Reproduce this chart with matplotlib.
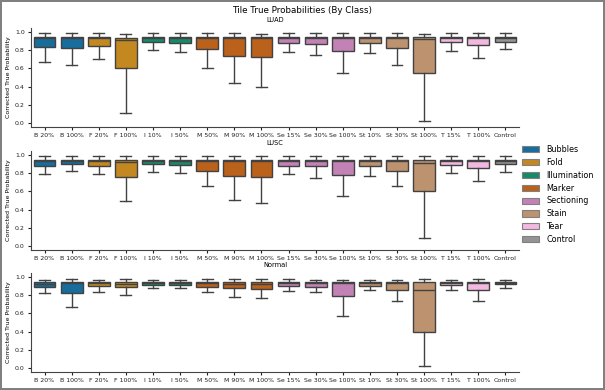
import matplotlib
matplotlib.use("Agg")
import matplotlib.pyplot as plt
import seaborn as sns
from matplotlib.patches import Patch

# ==========================================
# DATA
# ==========================================
LABELS = ['B 20%', 'B 100%', 'F 20%', 'F 100%', 'I 10%', 'I 50%', 'M 50%', 'M 90%',
          'M 100%', 'Se 15%', 'Se 30%', 'Se 100%', 'St 10%', 'St 30%', 'St 100%',
          'T 15%', 'T 100%', 'Control']
LABEL_CLASS = ['Bubbles', 'Bubbles', 'Fold', 'Fold', 'Illumination', 'Illumination',
               'Marker', 'Marker', 'Marker', 'Sectioning', 'Sectioning', 'Sectioning',
               'Stain', 'Stain', 'Stain', 'Tear', 'Tear', 'Control']
CLASSES = ['Bubbles', 'Fold', 'Illumination', 'Marker', 'Sectioning', 'Stain', 'Tear', 'Control']
PANELS = ['LUAD', 'LUSC', 'Normal']

# per panel: whisker low, Q1, median, Q3, whisker high
LUAD_LOW = [0.67, 0.64, 0.70, 0.11, 0.805, 0.78, 0.61, 0.44, 0.39, 0.78, 0.75, 0.55,
            0.77, 0.64, 0.02, 0.79, 0.72, 0.81]
LUAD_Q1 = [0.835, 0.82, 0.85, 0.61, 0.89, 0.88, 0.816, 0.74, 0.724, 0.88, 0.87, 0.79,
           0.875, 0.82, 0.555, 0.89, 0.857, 0.89]
LUAD_MED = [0.94, 0.94, 0.94, 0.91, 0.93, 0.93, 0.94, 0.93, 0.93, 0.93, 0.93, 0.94,
            0.94, 0.94, 0.92, 0.93, 0.93, 0.93]
LUAD_Q3 = [0.95, 0.95, 0.95, 0.94, 0.95, 0.95, 0.95, 0.95, 0.95, 0.95, 0.95, 0.95,
           0.95, 0.95, 0.95, 0.95, 0.95, 0.95]
LUAD_HIGH = [0.99, 0.99, 0.99, 0.98, 0.99, 0.99, 0.99, 0.99, 0.98, 0.99, 0.99, 0.99,
             0.99, 0.99, 0.98, 0.99, 0.99, 0.99]

LUSC_LOW = [0.79, 0.825, 0.79, 0.49, 0.81, 0.805, 0.657, 0.51, 0.474, 0.79, 0.75, 0.555,
            0.774, 0.664, 0.084, 0.80, 0.715, 0.81]
LUSC_Q1 = [0.883, 0.898, 0.883, 0.76, 0.898, 0.89, 0.83, 0.774, 0.76, 0.883, 0.876, 0.785,
           0.876, 0.83, 0.60, 0.89, 0.858, 0.898]
LUSC_MED = [0.93, 0.93, 0.93, 0.92, 0.93, 0.93, 0.94, 0.94, 0.94, 0.93, 0.93, 0.94,
            0.94, 0.94, 0.916, 0.93, 0.93, 0.93]
LUSC_Q3 = [0.95, 0.95, 0.95, 0.95, 0.95, 0.95, 0.95, 0.95, 0.95, 0.95, 0.95, 0.95,
           0.95, 0.95, 0.95, 0.95, 0.95, 0.95]
LUSC_HIGH = [0.99, 0.99, 0.99, 0.985, 0.99, 0.99, 0.99, 0.99, 0.99, 0.99, 0.99, 0.99,
             0.99, 0.99, 0.99, 0.99, 0.99, 0.99]

NORMAL_LOW = [0.82, 0.668, 0.84, 0.807, 0.883, 0.88, 0.836, 0.785, 0.77, 0.85, 0.832, 0.577,
              0.854, 0.74, 0.018, 0.86, 0.74, 0.883]
NORMAL_Q1 = [0.89, 0.825, 0.905, 0.887, 0.915, 0.915, 0.894, 0.883, 0.872, 0.905, 0.894, 0.796,
             0.905, 0.86, 0.40, 0.909, 0.86, 0.92]
NORMAL_MED = [0.925, 0.93, 0.93, 0.925, 0.935, 0.935, 0.93, 0.925, 0.925, 0.93, 0.93, 0.94,
              0.935, 0.94, 0.86, 0.935, 0.94, 0.935]
NORMAL_Q3 = [0.945, 0.945, 0.945, 0.945, 0.945, 0.945, 0.945, 0.942, 0.945, 0.948, 0.945, 0.945,
             0.945, 0.945, 0.945, 0.945, 0.945, 0.948]
NORMAL_HIGH = [0.967, 0.975, 0.967, 0.975, 0.967, 0.967, 0.975, 0.975, 0.975, 0.975, 0.967, 0.967,
               0.967, 0.967, 0.978, 0.967, 0.975, 0.967]

PANEL_STATS = {
    'LUAD': (LUAD_LOW, LUAD_Q1, LUAD_MED, LUAD_Q3, LUAD_HIGH),
    'LUSC': (LUSC_LOW, LUSC_Q1, LUSC_MED, LUSC_Q3, LUSC_HIGH),
    'Normal': (NORMAL_LOW, NORMAL_Q1, NORMAL_MED, NORMAL_Q3, NORMAL_HIGH),
}

# ==========================================
# STYLE
# ==========================================
palette = sns.color_palette('colorblind', len(CLASSES))
class_color = {c: sns.desaturate(col, 0.75) for c, col in zip(CLASSES, palette)}
EDGE = (0.26, 0.26, 0.26)

fig = plt.figure(figsize=(6.05, 3.9), dpi=100)
fig.patch.set_edgecolor((0.5, 0.5, 0.5))
fig.patch.set_linewidth(1.5)

axes_rects = [
    [31 / 605, 1 - 127 / 390, 488 / 605, 99 / 390],
    [31 / 605, 1 - 250 / 390, 488 / 605, 99 / 390],
    [31 / 605, 1 - 372 / 390, 488 / 605, 99 / 390],
]

for panel, rect in zip(PANELS, axes_rects):
    ax = fig.add_axes(rect)
    low, q1, med, q3, high = PANEL_STATS[panel]
    stats = []
    for i, lab in enumerate(LABELS):
        stats.append({'label': lab, 'whislo': low[i], 'q1': q1[i], 'med': med[i],
                      'q3': q3[i], 'whishi': high[i], 'fliers': []})
    bp = ax.bxp(stats, positions=range(len(LABELS)), widths=0.8, patch_artist=True,
                showfliers=False,
                boxprops=dict(edgecolor=EDGE, linewidth=1.0),
                medianprops=dict(color=EDGE, linewidth=1.0),
                whiskerprops=dict(color=EDGE, linewidth=1.0),
                capprops=dict(color=EDGE, linewidth=1.0))
    for patch, cls in zip(bp['boxes'], LABEL_CLASS):
        patch.set_facecolor(class_color[cls])
    for cap in bp['caps']:
        x0, x1 = cap.get_xdata()
        xm = (x0 + x1) / 2
        cap.set_xdata([xm - 0.2, xm + 0.2])

    ax.set_xlim(-0.5, len(LABELS) - 0.5)
    ax.set_ylim(-0.045, 1.045)
    ax.set_yticks([0.0, 0.2, 0.4, 0.6, 0.8, 1.0])
    ax.set_xticks(range(len(LABELS)))
    ax.set_xticklabels(LABELS)
    ax.tick_params(axis='both', labelsize=4.5, length=2.5, width=0.8, pad=2, colors='#222222')
    ax.set_ylabel('Corrected True Probability', fontsize=4.5, labelpad=3)
    ax.set_title(panel, fontsize=4.8, pad=4)
    ax.spines['top'].set_visible(False)
    ax.spines['right'].set_visible(False)
    for s in ['left', 'bottom']:
        ax.spines[s].set_linewidth(0.8)
        ax.spines[s].set_color('#444444')

fig.suptitle('Tile True Probabilities (By Class)', fontsize=6.3, y=0.985)

handles = [Patch(facecolor=class_color[c], edgecolor=(0.5, 0.5, 0.5), linewidth=0.8, label=c)
           for c in CLASSES]
fig.legend(handles=handles, loc='upper left', bbox_to_anchor=(522 / 605, 1 - 145 / 390),
           frameon=False, fontsize=5.8, handlelength=2.15, handleheight=0.8,
           labelspacing=0.48, handletextpad=0.9, borderaxespad=0, borderpad=0)

fig.savefig('out.png', dpi=100)
